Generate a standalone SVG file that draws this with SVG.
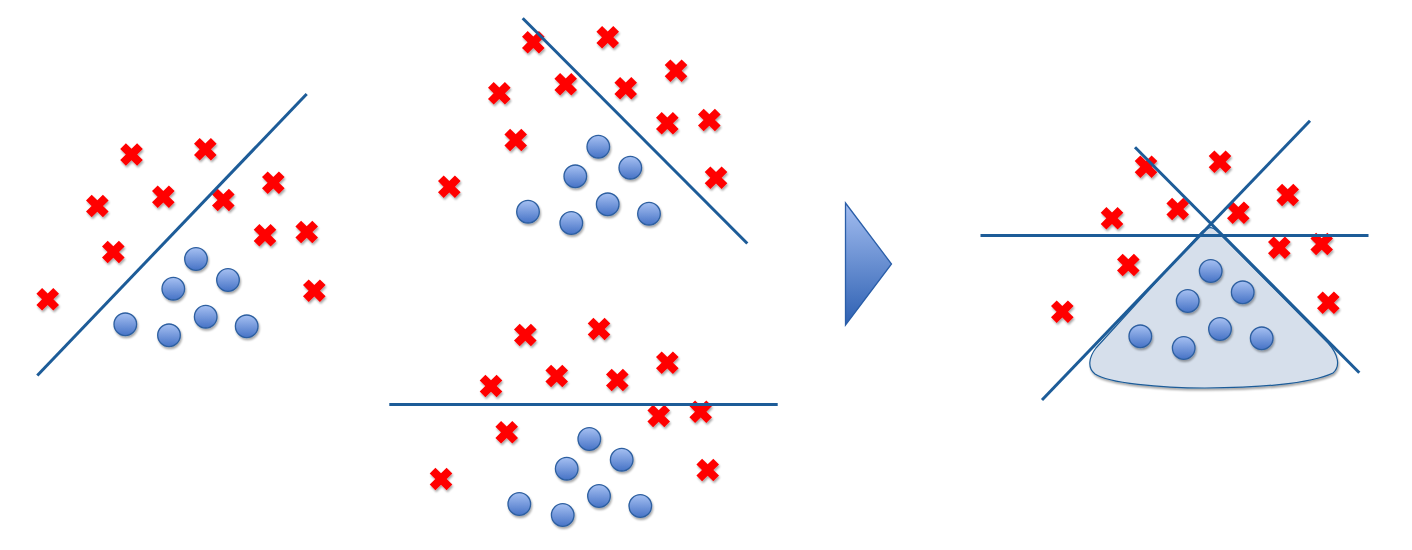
<svg xmlns="http://www.w3.org/2000/svg" xmlns:xlink="http://www.w3.org/1999/xlink" width="1412" height="550" viewBox="0 0 1412 550">
<style>
.ln{stroke:#1d5c98;stroke-width:3;fill:none;stroke-linecap:butt}
.cr{fill:#ff0000;filter:url(#sh)}
.ci{fill:url(#cg);stroke:#2d5fa0;stroke-width:1.3;filter:url(#sh)}
</style>
<defs>
<linearGradient id="cg" x1="0" y1="0" x2="0" y2="1">
<stop offset="0" stop-color="#a6c0f2"/>
<stop offset="1" stop-color="#4673c6"/>
</linearGradient>
<linearGradient id="ag" x1="0" y1="0" x2="0" y2="1">
<stop offset="0" stop-color="#a3bdf0"/>
<stop offset="1" stop-color="#2d60b2"/>
</linearGradient>
<filter id="sh" x="-50%" y="-50%" width="200%" height="200%">
<feGaussianBlur in="SourceAlpha" stdDeviation="1.2"/>
<feOffset dx="0.8" dy="1.5" result="b"/>
<feComponentTransfer><feFuncA type="linear" slope="0.35"/></feComponentTransfer>
<feMerge><feMergeNode/><feMergeNode in="SourceGraphic"/></feMerge>
</filter>
<path id="x" d="M-11.3,-5.6 L-5.6,-11.3 L0,-5.7 L5.6,-11.3 L11.3,-5.6 L5.7,0 L11.3,5.6 L5.6,11.3 L0,5.7 L-5.6,11.3 L-11.3,5.6 L-5.7,0 Z"/>
<circle id="o" r="11.3" cx="0" cy="0"/>
</defs>
<rect width="1412" height="550" fill="#ffffff"/>

<g id="panel-left">
<g id="l-x1" class="cr"><use xlink:href="#x" x="131.5" y="154.5"/></g>
<g id="l-x2" class="cr"><use xlink:href="#x" x="205.3" y="149.3"/></g>
<g id="l-x3" class="cr"><use xlink:href="#x" x="273.3" y="182.7"/></g>
<g id="l-x4" class="cr"><use xlink:href="#x" x="97.3" y="206"/></g>
<g id="l-x5" class="cr"><use xlink:href="#x" x="163.3" y="196.7"/></g>
<g id="l-x6" class="cr"><use xlink:href="#x" x="223.3" y="200"/></g>
<g id="l-x7" class="cr"><use xlink:href="#x" x="113.3" y="252"/></g>
<g id="l-x8" class="cr"><use xlink:href="#x" x="265" y="235.3"/></g>
<g id="l-x9" class="cr"><use xlink:href="#x" x="306.7" y="232"/></g>
<g id="l-x10" class="cr"><use xlink:href="#x" x="47.7" y="299.3"/></g>
<g id="l-x11" class="cr"><use xlink:href="#x" x="314.3" y="290.7"/></g>
<g id="l-o1" class="ci"><use xlink:href="#o" x="196" y="259"/></g>
<g id="l-o2" class="ci"><use xlink:href="#o" x="228" y="280"/></g>
<g id="l-o3" class="ci"><use xlink:href="#o" x="173.3" y="288.7"/></g>
<g id="l-o4" class="ci"><use xlink:href="#o" x="205.7" y="316.7"/></g>
<g id="l-o5" class="ci"><use xlink:href="#o" x="125.3" y="324.3"/></g>
<g id="l-o6" class="ci"><use xlink:href="#o" x="169" y="335.3"/></g>
<g id="l-o7" class="ci"><use xlink:href="#o" x="246.7" y="326.3"/></g>
</g>

<g id="panel-top">
<g id="t-x1" class="cr"><use xlink:href="#x" x="533.3" y="42.3"/></g>
<g id="t-x2" class="cr"><use xlink:href="#x" x="607.7" y="37.3"/></g>
<g id="t-x3" class="cr"><use xlink:href="#x" x="676" y="70.7"/></g>
<g id="t-x4" class="cr"><use xlink:href="#x" x="499.3" y="93.3"/></g>
<g id="t-x5" class="cr"><use xlink:href="#x" x="565.7" y="84.3"/></g>
<g id="t-x6" class="cr"><use xlink:href="#x" x="625.7" y="88.3"/></g>
<g id="t-x7" class="cr"><use xlink:href="#x" x="667.3" y="123.3"/></g>
<g id="t-x8" class="cr"><use xlink:href="#x" x="709.3" y="120"/></g>
<g id="t-x9" class="cr"><use xlink:href="#x" x="515.7" y="140"/></g>
<g id="t-x10" class="cr"><use xlink:href="#x" x="716" y="177.7"/></g>
<g id="t-x11" class="cr"><use xlink:href="#x" x="449.3" y="186.7"/></g>
<g id="t-o1" class="ci"><use xlink:href="#o" x="598.3" y="146.7"/></g>
<g id="t-o2" class="ci"><use xlink:href="#o" x="630.3" y="167.7"/></g>
<g id="t-o3" class="ci"><use xlink:href="#o" x="575.3" y="176.3"/></g>
<g id="t-o4" class="ci"><use xlink:href="#o" x="607.7" y="204.3"/></g>
<g id="t-o5" class="ci"><use xlink:href="#o" x="528" y="211.7"/></g>
<g id="t-o6" class="ci"><use xlink:href="#o" x="571.3" y="223"/></g>
<g id="t-o7" class="ci"><use xlink:href="#o" x="649" y="213.7"/></g>
</g>

<g id="panel-bottom">
<g id="b-x1" class="cr"><use xlink:href="#x" x="525.3" y="335"/></g>
<g id="b-x2" class="cr"><use xlink:href="#x" x="599" y="329"/></g>
<g id="b-x3" class="cr"><use xlink:href="#x" x="667.3" y="362.7"/></g>
<g id="b-x4" class="cr"><use xlink:href="#x" x="491" y="386"/></g>
<g id="b-x5" class="cr"><use xlink:href="#x" x="556.7" y="376"/></g>
<g id="b-x6" class="cr"><use xlink:href="#x" x="617.3" y="380"/></g>
<g id="b-x7" class="cr"><use xlink:href="#x" x="658.7" y="416"/></g>
<g id="b-x8" class="cr"><use xlink:href="#x" x="700.7" y="411.7"/></g>
<g id="b-x9" class="cr"><use xlink:href="#x" x="506.7" y="432.3"/></g>
<g id="b-x10" class="cr"><use xlink:href="#x" x="441" y="479"/></g>
<g id="b-x11" class="cr"><use xlink:href="#x" x="707.7" y="470"/></g>
<g id="b-o1" class="ci"><use xlink:href="#o" x="589.3" y="439"/></g>
<g id="b-o2" class="ci"><use xlink:href="#o" x="621.7" y="459.7"/></g>
<g id="b-o3" class="ci"><use xlink:href="#o" x="566.7" y="468.7"/></g>
<g id="b-o4" class="ci"><use xlink:href="#o" x="599" y="496"/></g>
<g id="b-o5" class="ci"><use xlink:href="#o" x="519.3" y="504"/></g>
<g id="b-o6" class="ci"><use xlink:href="#o" x="562.7" y="515"/></g>
<g id="b-o7" class="ci"><use xlink:href="#o" x="640.3" y="506"/></g>
</g>

<g id="arrow">
<path d="M845.5,203 L891.5,264 L845.5,325 Z" fill="url(#ag)" stroke="#2a5ea8" stroke-width="1.3" stroke-linejoin="miter"/>
</g>

<g id="panel-right">
<g id="region" filter="url(#sh)">
<path d="M1207,229 C1210,226 1214,228 1218,232 L1328,343 C1338,354 1341,366 1333,373 C1310,384 1255,388 1205,388 C1160,388 1108,383 1095,374 C1087,368 1089,357 1096,348 L1199,235 C1202,231 1204,229 1207,229 Z" fill="#d6dfeb" stroke="#1d5c98" stroke-width="1.2"/>
</g>
<g id="r-x1" class="cr"><use xlink:href="#x" x="1146" y="166.7"/></g>
<g id="r-x2" class="cr"><use xlink:href="#x" x="1220" y="161.7"/></g>
<g id="r-x3" class="cr"><use xlink:href="#x" x="1287.7" y="195"/></g>
<g id="r-x4" class="cr"><use xlink:href="#x" x="1112" y="218.3"/></g>
<g id="r-x5" class="cr"><use xlink:href="#x" x="1177.7" y="209"/></g>
<g id="r-x6" class="cr"><use xlink:href="#x" x="1238.3" y="212.7"/></g>
<g id="r-x7" class="cr"><use xlink:href="#x" x="1279.3" y="247.7"/></g>
<g id="r-x8" class="cr"><use xlink:href="#x" x="1321.7" y="244"/></g>
<g id="r-x9" class="cr"><use xlink:href="#x" x="1128.3" y="265"/></g>
<g id="r-x10" class="cr"><use xlink:href="#x" x="1062.3" y="311.7"/></g>
<g id="r-x11" class="cr"><use xlink:href="#x" x="1328.3" y="302.7"/></g>
<g id="r-o1" class="ci"><use xlink:href="#o" x="1210.7" y="271"/></g>
<g id="r-o2" class="ci"><use xlink:href="#o" x="1242.7" y="292.3"/></g>
<g id="r-o3" class="ci"><use xlink:href="#o" x="1187.7" y="301"/></g>
<g id="r-o4" class="ci"><use xlink:href="#o" x="1220" y="329"/></g>
<g id="r-o5" class="ci"><use xlink:href="#o" x="1140.3" y="336.3"/></g>
<g id="r-o6" class="ci"><use xlink:href="#o" x="1183.7" y="348"/></g>
<g id="r-o7" class="ci"><use xlink:href="#o" x="1261.7" y="338.3"/></g>
</g>

<g id="lines">
<line class="ln" x1="37.3" y1="375.5" x2="306.7" y2="94"/>
<line class="ln" x1="522.7" y1="18.3" x2="747.3" y2="243.5"/>
<line class="ln" x1="389.3" y1="404.5" x2="777.7" y2="404.5"/>
<line class="ln" x1="1135" y1="147.3" x2="1359.3" y2="372.7"/>
<line class="ln" x1="1042" y1="400" x2="1310" y2="120.7"/>
<line class="ln" x1="980.5" y1="235.5" x2="1368.5" y2="235.5"/>
</g>
</svg>
